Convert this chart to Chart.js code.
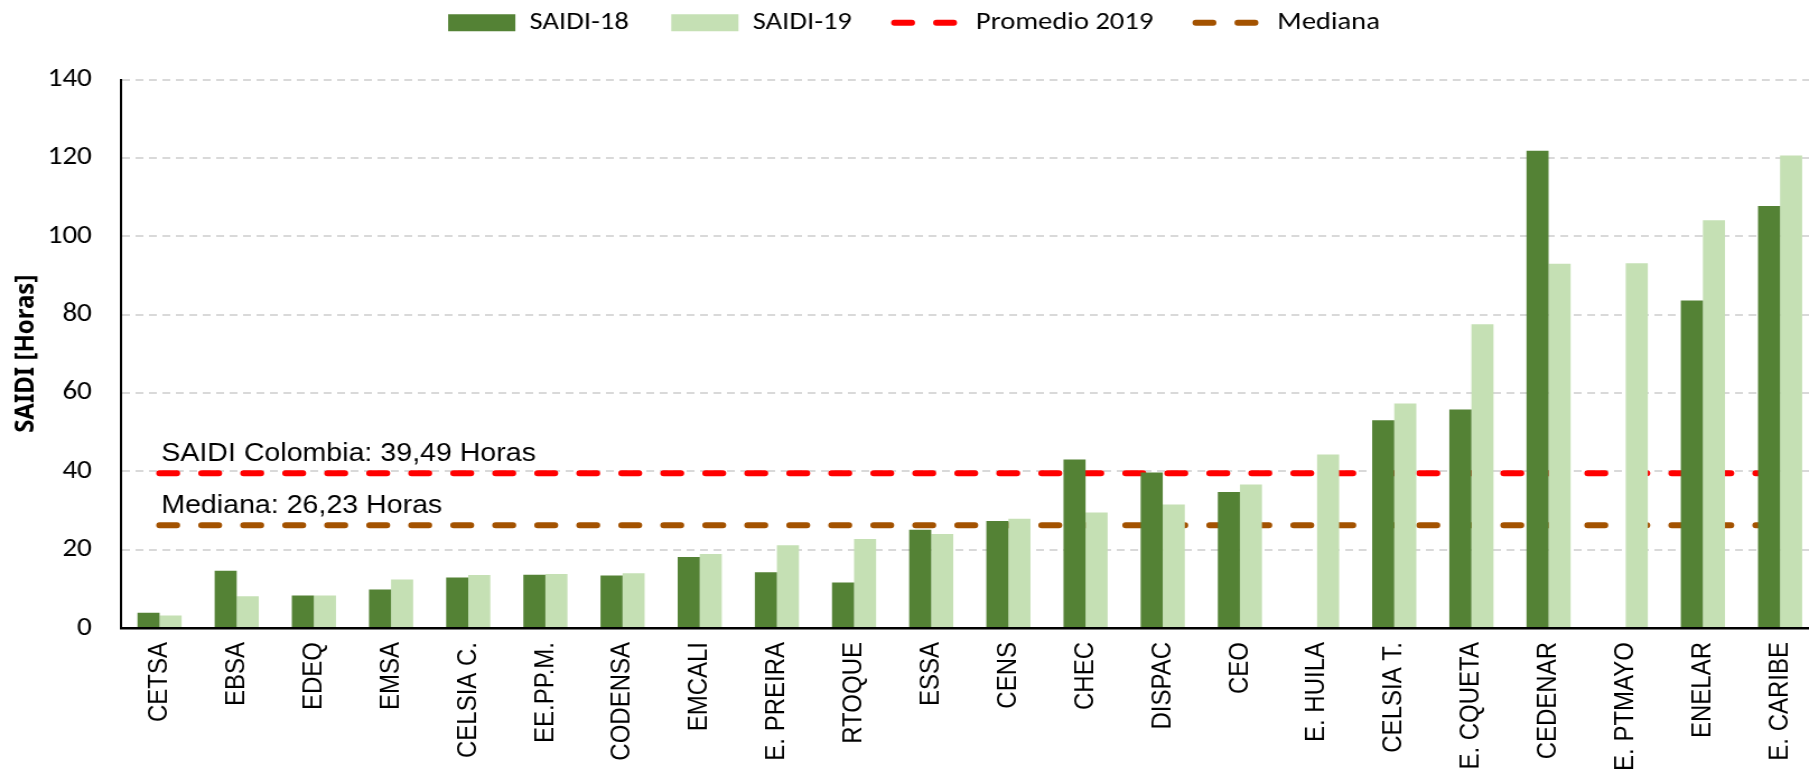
<!DOCTYPE html>
<html>
<head>
<meta charset="utf-8">
<script src="https://cdn.jsdelivr.net/npm/chart.js@4.4.0/dist/chart.umd.min.js"></script>
<style>
  html, body { margin: 0; padding: 0; background: #fff; overflow: hidden; }
</style>
</head>
<body>
<!-- el gráfico original está estirado en horizontal: se dibuja a 1632 px y se muestra a 1828 px -->
<canvas id="saidiChart" width="1632" height="779" style="display:block;width:1828px;height:779px"></canvas>
<script>
// Datos
const categorias = ['CETSA', 'EBSA', 'EDEQ', 'EMSA', 'CELSIA C.', 'EE.PP.M.', 'CODENSA', 'EMCALI', 'E. PREIRA', 'RTOQUE',
  'ESSA', 'CENS', 'CHEC', 'DISPAC', 'CEO', 'E. HUILA', 'CELSIA T.', 'E. CQUETA', 'CEDENAR', 'E. PTMAYO', 'ENELAR', 'E. CARIBE'];
const saidi18 = [3.9, 14.6, 8.3, 9.8, 12.9, 13.6, 13.4, 18.1, 14.2, 11.6,
  25.1, 27.3, 43.0, 39.7, 34.7, null, 53.0, 55.8, 121.8, null, 83.6, 107.7];
const saidi19 = [3.2, 8.1, 8.3, 12.4, 13.5, 13.8, 14.0, 18.9, 21.1, 22.7,
  24.0, 27.9, 29.5, 31.5, 36.6, 44.3, 57.3, 77.5, 93.0, 93.1, 104.1, 120.6];
const promedio2019 = 39.49;
const mediana = 26.23;
const ticksY = [0, 20, 40, 60, 80, 100, 120, 140];

const verdeOscuro = '#548235';
const verdeClaro = '#c5e0b4';
const rojo = '#ff0000';
const cafe = '#a35200';

const lineaPromedio = categorias.map(() => promedio2019);
const lineaMediana = categorias.map(() => mediana);
const coma = v => v.toFixed(2).replace('.', ',');

// Textos sobre las líneas de referencia
const etiquetas = {
  id: 'etiquetas',
  afterDatasetsDraw(chart) {
    const ctx = chart.ctx;
    const x = chart.scales.x.getPixelForValue(0) + 1.5;
    const y = chart.scales.y;
    ctx.save();
    ctx.fillStyle = '#000';
    ctx.font = '25.5px "Liberation Sans", Arial, sans-serif';
    ctx.textBaseline = 'alphabetic';
    ctx.fillText('SAIDI Colombia: ' + coma(promedio2019) + ' Horas', x, y.getPixelForValue(promedio2019) - 12);
    ctx.fillText('Mediana: ' + coma(mediana) + ' Horas', x, y.getPixelForValue(mediana) - 12);
    ctx.restore();
  }
};

// Alto fijo para la leyenda
const altoLeyenda = {
  id: 'altoLeyenda',
  afterInit(chart) {
    const fit = chart.legend.fit;
    chart.legend.fit = function () {
      fit.call(this);
      this.height = 107.5;
    };
  }
};

const ctx = document.getElementById('saidiChart').getContext('2d');
new Chart(ctx, {
  type: 'bar',
  data: {
    labels: categorias,
    datasets: [{
      label: 'SAIDI-18',
      data: saidi18,
      backgroundColor: verdeOscuro,
      borderWidth: 0,
      pointStyle: 'rect'
    }, {
      label: 'SAIDI-19',
      data: saidi19,
      backgroundColor: verdeClaro,
      borderWidth: 0,
      pointStyle: 'rect'
    }, {
      type: 'line',
      label: 'Promedio 2019',
      data: lineaPromedio,
      borderColor: rojo,
      backgroundColor: rojo,
      borderWidth: 6,
      borderDash: [15.4, 22.1],
      borderCapStyle: 'round',
      pointRadius: 0,
      pointStyle: 'line',
      fill: false
    }, {
      type: 'line',
      label: 'Mediana',
      data: lineaMediana,
      borderColor: cafe,
      backgroundColor: cafe,
      borderWidth: 6,
      borderDash: [15.4, 22.1],
      borderCapStyle: 'round',
      pointRadius: 0,
      pointStyle: 'line',
      fill: false
    }]
  },
  options: {
    responsive: false,
    animation: false,
    devicePixelRatio: 1,
    layout: { padding: { top: -28, left: 0, right: 0, bottom: 0 } },
    datasets: {
      bar: { categoryPercentage: 0.572, barPercentage: 1 }
    },
    plugins: {
      tooltip: { enabled: false },
      legend: {
        position: 'top',
        labels: {
          color: '#000',
          font: { family: 'Carlito, "Noto Sans", sans-serif', size: 25.5 },
          usePointStyle: true,
          pointStyleWidth: 60,
          boxHeight: 17,
          padding: 38,
          generateLabels(chart) {
            return chart.data.datasets.map((ds, i) => ({
              text: ds.label,
              fillStyle: ds.type === 'line' ? 'rgba(0,0,0,0)' : ds.backgroundColor,
              strokeStyle: ds.type === 'line' ? ds.borderColor : ds.backgroundColor,
              lineWidth: ds.type === 'line' ? 6 : 0,
              lineDash: ds.type === 'line' ? ds.borderDash : [],
              lineCap: 'round',
              pointStyle: ds.pointStyle,
              fontColor: '#000',
              hidden: false,
              datasetIndex: i
            }));
          }
        }
      }
    },
    scales: {
      x: {
        grid: { display: false, drawTicks: false },
        border: { display: true, color: '#000', width: 2.5 },
        ticks: {
          color: '#000',
          font: { family: '"Liberation Sans", Arial, sans-serif', size: 24 },
          minRotation: 90,
          maxRotation: 90,
          autoSkip: false,
          padding: 14
        },
        afterFit(scale) { scale.height = 151; }
      },
      y: {
        min: ticksY[0],
        max: ticksY[ticksY.length - 1],
        grid: { color: '#d9d9d9', lineWidth: 2, drawTicks: false },
        border: { display: true, color: '#000', width: 2, dash: [7, 5] },
        ticks: {
          stepSize: ticksY[1] - ticksY[0],
          color: '#000',
          font: { family: 'Carlito, "Noto Sans", sans-serif', size: 26 },
          padding: 26
        },
        title: {
          display: true,
          text: 'SAIDI [Horas]',
          color: '#000',
          font: { family: '"Noto Sans", sans-serif', size: 24, weight: 'bold' },
          padding: { top: 9, bottom: 0 }
        },
        afterFit(scale) { scale.width = 108; }
      }
    }
  },
  plugins: [etiquetas, altoLeyenda]
});
</script>
</body>
</html>
